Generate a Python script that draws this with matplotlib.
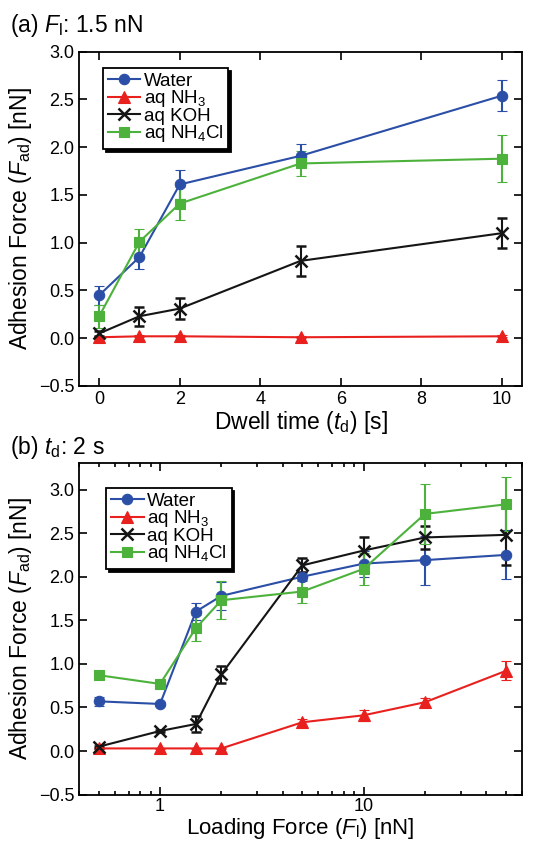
import matplotlib
matplotlib.use("Agg")
import matplotlib.pyplot as plt
from matplotlib.lines import Line2D
from matplotlib.ticker import MultipleLocator, LogLocator, FixedLocator, FixedFormatter, NullFormatter

plt.rcParams['font.family'] = ['Liberation Sans', 'DejaVu Sans']
plt.rcParams['mathtext.fontset'] = 'custom'
plt.rcParams['mathtext.rm'] = 'Liberation Sans'
plt.rcParams['mathtext.it'] = 'Liberation Sans:italic'
plt.rcParams['mathtext.default'] = 'regular'

# ---- Panel (a): adhesion vs dwell time, F_l = 1.5 nN ----
dwell_time = [0, 1, 2, 5, 10]
a_water = [0.45, 0.85, 1.61, 1.91, 2.54]
a_water_err = [0.10, 0.12, 0.15, 0.12, 0.16]
a_nh3 = [0.01, 0.02, 0.02, 0.01, 0.02]
a_nh3_err = [0.01, 0.01, 0.01, 0.01, 0.01]
a_koh = [0.05, 0.23, 0.31, 0.81, 1.10]
a_koh_err = [0.03, 0.10, 0.11, 0.16, 0.16]
a_nh4cl = [0.23, 1.01, 1.41, 1.83, 1.88]
a_nh4cl_err = [0.12, 0.13, 0.17, 0.13, 0.245]

# ---- Panel (b): adhesion vs loading force, t_d = 2 s ----
loading_force = [0.5, 1, 1.5, 2, 5, 10, 20, 50]
b_water = [0.57, 0.54, 1.60, 1.78, 2.00, 2.15, 2.19, 2.25]
b_water_err = [0.05, 0.02, 0.10, 0.16, 0.05, 0.15, 0.28, 0.28]
b_nh3 = [0.03, 0.03, 0.03, 0.03, 0.33, 0.41, 0.56, 0.92]
b_nh3_err = [0.01, 0.01, 0.01, 0.01, 0.04, 0.06, 0.05, 0.11]
b_koh = [0.05, 0.23, 0.31, 0.88, 2.13, 2.30, 2.45, 2.48]
b_koh_err = [0.01, 0.01, 0.095, 0.10, 0.08, 0.16, 0.13, 0.35]
b_nh4cl = [0.87, 0.77, 1.41, 1.73, 1.83, 2.09, 2.72, 2.83]
b_nh4cl_err = [0.04, 0.03, 0.15, 0.215, 0.13, 0.18, 0.34, 0.31]

labels = ['Water', 'aq NH$_3$', 'aq KOH', 'aq NH$_4$Cl']
colors = ['#2b4ea6', '#e8201e', '#151515', '#4db23c']
markers = ['o', '^', 'x', 's']
msizes = [7.5, 8, 8, 7]

fig = plt.figure(figsize=(5.45, 8.44), dpi=100)
ax_a = fig.add_axes([0.145, 0.5427, 0.813, 0.396])
ax_b = fig.add_axes([0.145, 0.0585, 0.813, 0.3925])


def marker_kw(c, m, ms):
    return dict(color=c, marker=m, markersize=ms,
                markeredgewidth=1.8 if m == 'x' else 0.8,
                markeredgecolor=c, markerfacecolor=c, linewidth=1.5)


def draw_series(ax, x, ys, errs):
    for y, e, c, m, ms in zip(ys, errs, colors, markers, msizes):
        ax.errorbar(x, y, yerr=e, elinewidth=1.5, capsize=3.3, capthick=1.5,
                    **marker_kw(c, m, ms))


def style_axes(ax):
    for s in ax.spines.values():
        s.set_linewidth(1.3)
    ax.tick_params(which='both', direction='in', top=True, right=True,
                   labelsize=13, width=1.2)
    ax.tick_params(which='major', length=6)
    ax.tick_params(which='minor', length=3)


def add_legend(ax, anchor):
    handles = [Line2D([], [], **marker_kw(c, m, ms))
               for c, m, ms in zip(colors, markers, msizes)]
    leg = ax.legend(handles, labels, loc='upper left', bbox_to_anchor=anchor,
                    borderaxespad=0, fontsize=13.5, frameon=True, fancybox=False,
                    shadow={'color': 'black', 'alpha': 1.0},
                    edgecolor='black', framealpha=1, handlelength=1.75,
                    handletextpad=0.2, labelspacing=-0.08, borderpad=0.25)
    leg.get_frame().set_linewidth(1.3)
    return leg


def fmt_minus(v, p):
    return f"{v:.1f}".replace('-', '\u2212')


# Panel (a)
draw_series(ax_a, dwell_time, [a_water, a_nh3, a_koh, a_nh4cl],
            [a_water_err, a_nh3_err, a_koh_err, a_nh4cl_err])
style_axes(ax_a)
ax_a.set_xlim(-0.5, 10.5)
ax_a.set_ylim(-0.5, 3.0)
ax_a.xaxis.set_major_locator(MultipleLocator(2))
ax_a.yaxis.set_major_locator(MultipleLocator(0.5))
ax_a.yaxis.set_major_formatter(plt.FuncFormatter(fmt_minus))
ax_a.set_xlabel('Dwell time ($\\mathit{t}_\\mathrm{d}$) [s]', fontsize=16.5, labelpad=1)
ax_a.set_ylabel('Adhesion Force ($\\mathit{F}_\\mathrm{ad}$) [nN]', fontsize=16.5, labelpad=3)
add_legend(ax_a, (0.054, 0.952))

# Panel (b)
draw_series(ax_b, loading_force, [b_water, b_nh3, b_koh, b_nh4cl],
            [b_water_err, b_nh3_err, b_koh_err, b_nh4cl_err])
style_axes(ax_b)
ax_b.tick_params(axis='x', which='both', pad=2.5)
ax_b.set_xscale('log')
ax_b.set_xlim(0.4, 60)
ax_b.set_ylim(-0.5, 3.3)
ax_b.xaxis.set_major_locator(FixedLocator([1, 10]))
ax_b.xaxis.set_major_formatter(FixedFormatter(['1', '10']))
ax_b.xaxis.set_minor_locator(LogLocator(base=10, subs=range(2, 10)))
ax_b.xaxis.set_minor_formatter(NullFormatter())
ax_b.yaxis.set_major_locator(MultipleLocator(0.5))
ax_b.yaxis.set_major_formatter(plt.FuncFormatter(fmt_minus))
ax_b.set_xlabel('Loading Force ($\\mathit{F}_\\mathrm{l}$) [nN]', fontsize=16, labelpad=0.5)
ax_b.set_ylabel('Adhesion Force ($\\mathit{F}_\\mathrm{ad}$) [nN]', fontsize=16.5, labelpad=3)
add_legend(ax_b, (0.061, 0.926))

# Panel headings
fig.text(0.018, 0.970, '(a) $\\mathit{F}_\\mathrm{l}$: 1.5 nN', fontsize=16.5, va='center', ha='left')
fig.text(0.018, 0.470, '(b) $\\mathit{t}_\\mathrm{d}$: 2 s', fontsize=16.5, va='center', ha='left')

fig.savefig('out.png', dpi=100)
